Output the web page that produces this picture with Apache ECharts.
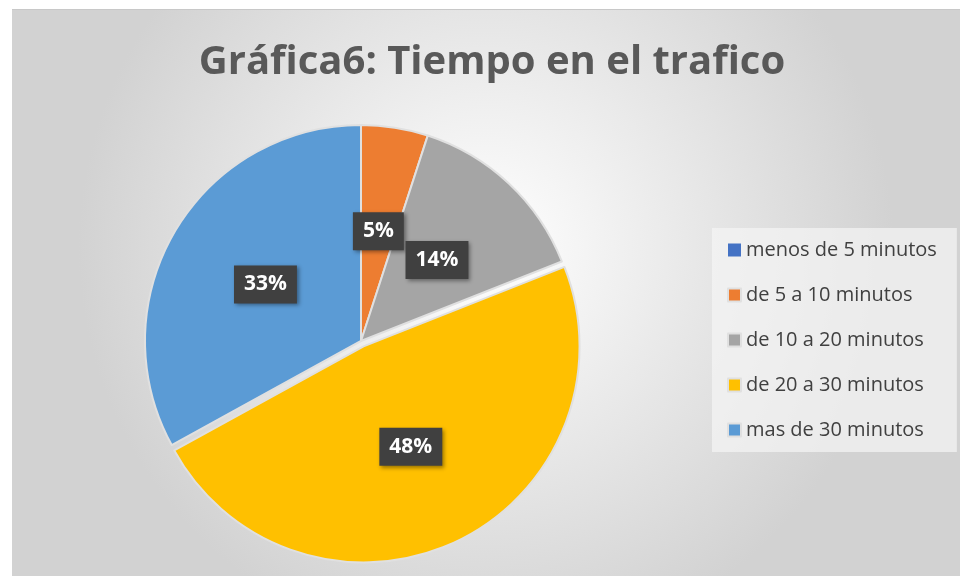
<!DOCTYPE html>
<html>
<head>
<meta charset="utf-8">
<script src="https://cdn.jsdelivr.net/npm/echarts@6/dist/echarts.min.js"></script>
<style>
  html, body { margin: 0; padding: 0; background: #fff; }
  #main {
    position: absolute; left: 12px; top: 9px; width: 948px; height: 567px;
    border-top: 1px solid #c8c8c8; box-sizing: border-box;
  }
</style>
</head>
<body>
<div id="main"></div>
<script>
var categories = ["menos de 5 minutos", "de 5 a 10 minutos", "de 10 a 20 minutos", "de 20 a 30 minutos", "mas de 30 minutos"];
var values = [0, 5, 14, 48, 33];
var colors = ["#4472C4", "#ED7D31", "#A5A5A5", "#FFC000", "#5B9BD5"];

var chart = echarts.init(document.getElementById("main"));

chart.setOption({
  backgroundColor: {
    type: "radial", x: 0.5, y: 0.42, r: 0.72,
    colorStops: [
      { offset: 0, color: "#ffffff" },
      { offset: 1, color: "#d2d2d2" }
    ]
  },
  color: colors,
  title: {
    text: "Gráfica6: Tiempo en el trafico",
    top: 28,
    left: 475,
    textAlign: "center",
    textStyle: {
      fontFamily: "Open Sans",
      fontWeight: "bold",
      fontSize: 40,
      color: "#595959"
    }
  },
  legend: {
    orient: "vertical",
    left: 700,
    top: 218,
    padding: [12, 20, 12, 15],
    backgroundColor: "rgba(245,245,245,0.7)",
    itemWidth: 13,
    itemHeight: 13,
    itemGap: 25,
    icon: "rect",
    data: categories,
    textStyle: {
      fontFamily: "Open Sans",
      fontSize: 20,
      lineHeight: 20,
      color: "#404040"
    }
  },
  series: [
    {
      type: "pie",
      center: [349, 331],
      radius: 216,
      startAngle: 90,
      clockwise: true,
      selectedMode: "multiple",
      selectedOffset: 6,
      avoidLabelOverlap: false,
      itemStyle: {
        borderColor: "#e0e0e0",
        borderWidth: 2
      },
      label: {
        show: true,
        position: "inside",
        formatter: function (p) { return Math.round(p.percent) + "%"; },
        fontFamily: "Open Sans",
        fontWeight: "bold",
        fontSize: 21,
        color: "#ffffff",
        backgroundColor: "#404040",
        padding: [9, 10, 8, 10],
        shadowColor: "rgba(0,0,0,0.4)",
        shadowBlur: 4,
        shadowOffsetX: 2,
        shadowOffsetY: 2
      },
      labelLine: { show: false },
      emphasis: { disabled: true },
      data: categories.map(function (name, i) {
        var item = { name: name, value: values[i], selected: i === 3 };
        // zero slice: no border so its label is still drawn
        if (values[i] === 0) item.itemStyle = { borderWidth: 0 };
        return item;
      })
    }
  ]
});
</script>
</body>
</html>
